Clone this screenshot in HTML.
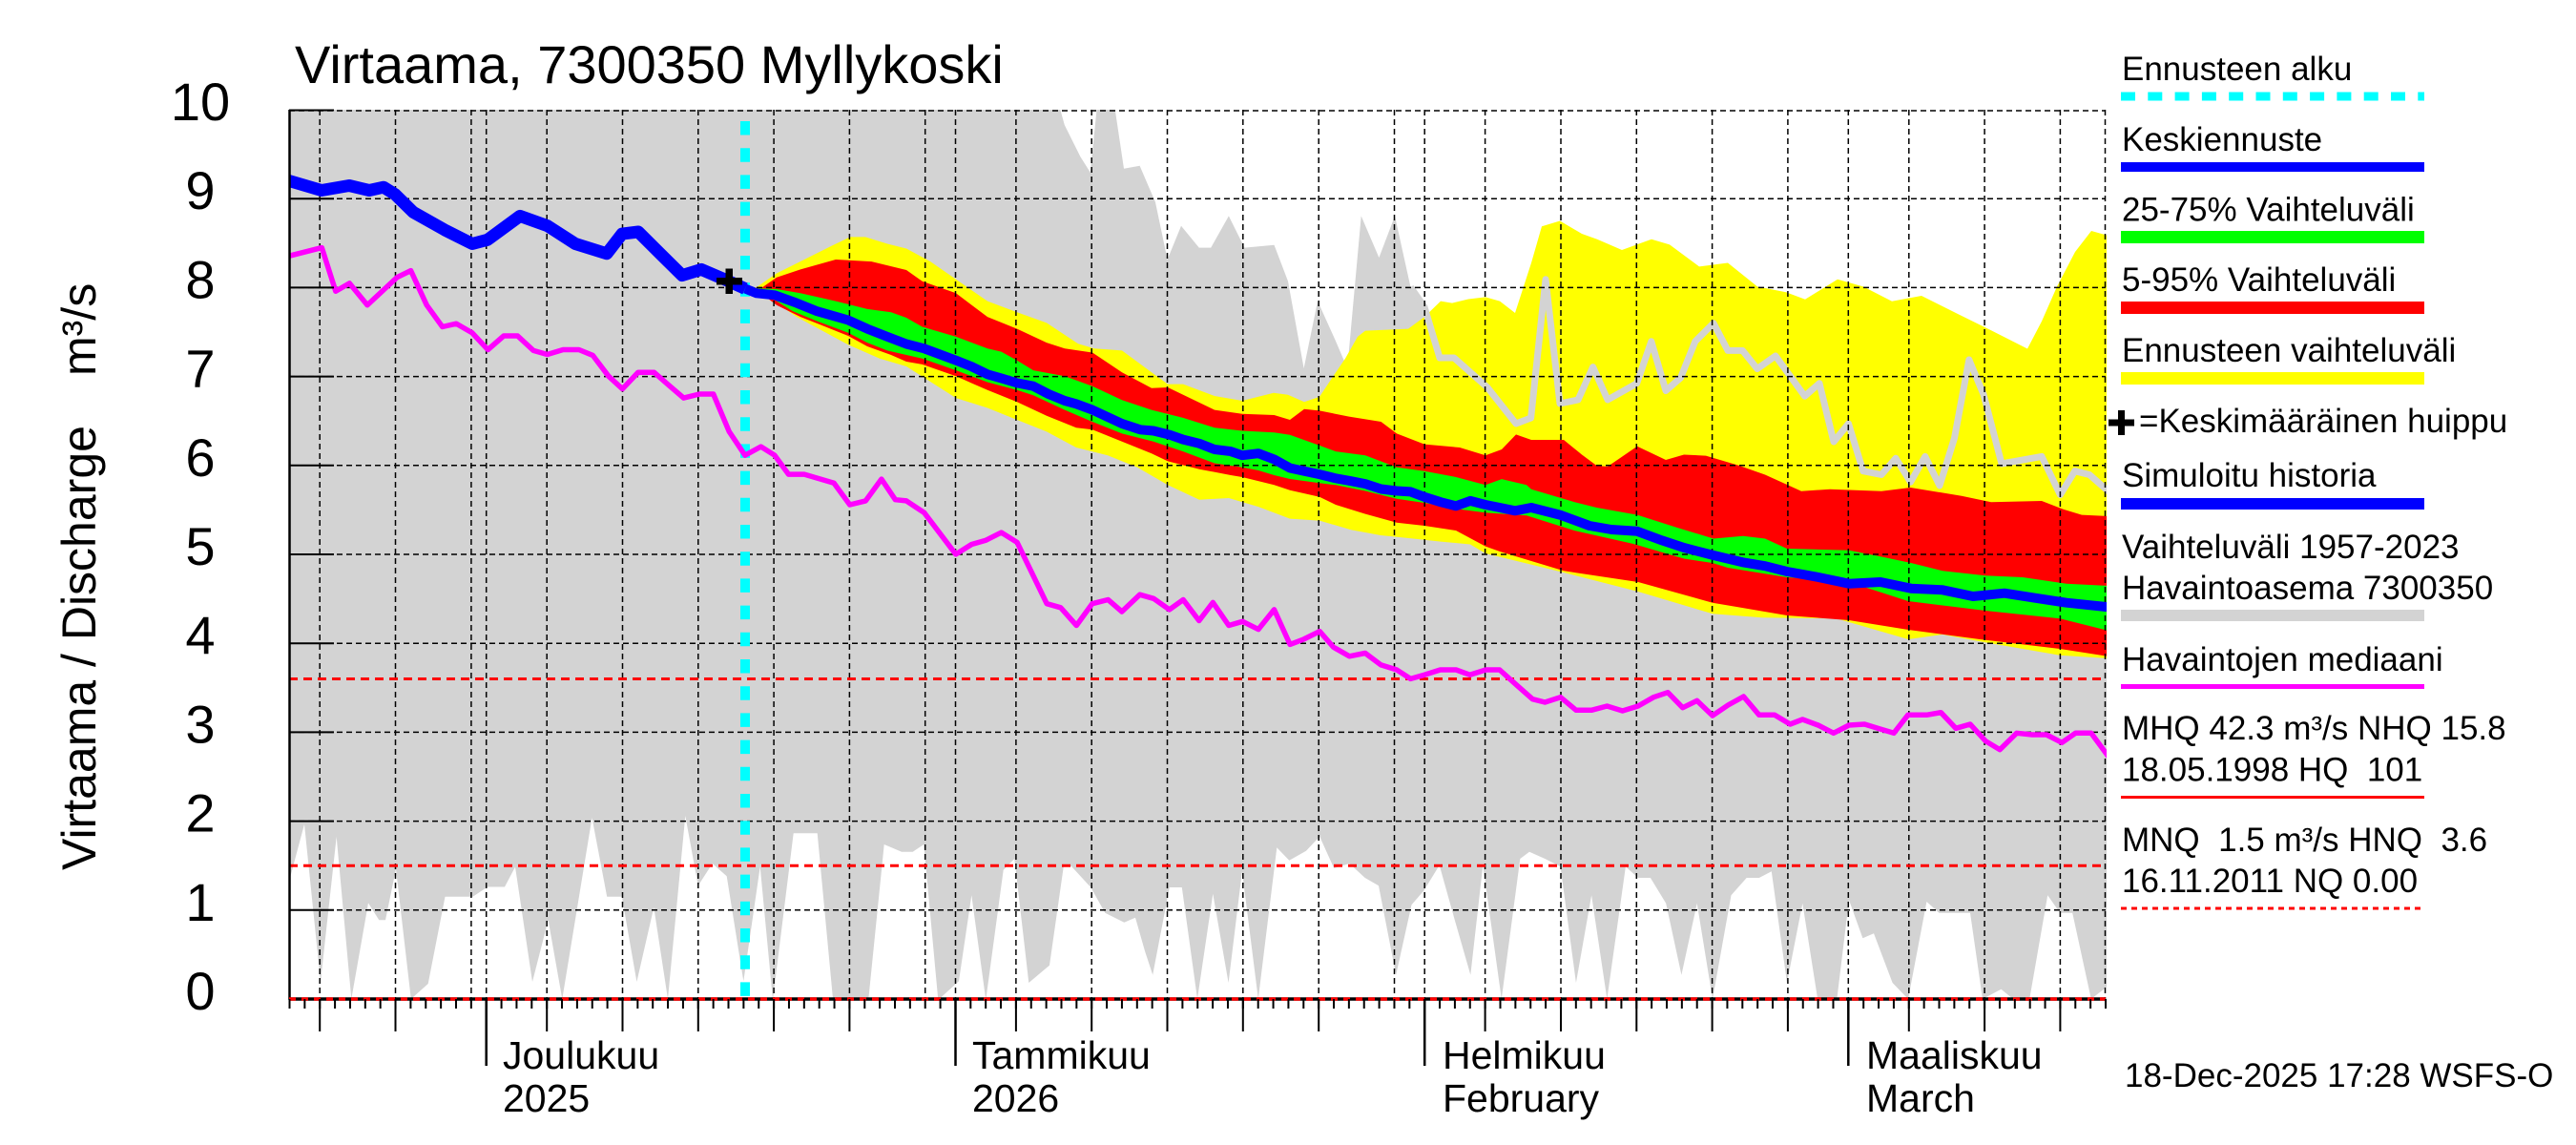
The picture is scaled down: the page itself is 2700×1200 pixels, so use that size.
<!DOCTYPE html>
<html><head><meta charset="utf-8"><style>
html,body{margin:0;padding:0;background:#fff;}
svg{display:block;}
text{font-family:"Liberation Sans",Arial,sans-serif;fill:#000;}
</style></head><body>
<svg width="2700" height="1200" viewBox="0 0 2700 1200" xmlns="http://www.w3.org/2000/svg">
<rect x="0" y="0" width="2700" height="1200" fill="#fff"/>
<defs><clipPath id="pc"><rect x="303" y="115" width="1905" height="932"/></clipPath></defs>

<g clip-path="url(#pc)">
<polygon fill="#d3d3d3" points="303,110 1110,110 1115.8,131 1132.4,164.3 1142.8,180.8 1150,110 1168,110 1178,176.7 1194.6,173.8 1211,212 1223.6,272 1238,236.8 1256.8,259.6 1269.2,259.6 1287.9,226.4 1304.4,259.6 1335.5,256.7 1350,294.8 1366.6,386 1381.1,315.6 1399.8,357 1412.2,386 1426.7,226.4 1445.4,270 1462,226.4 1478.5,301 1493,321.8 1509,375 1524,375 1558.7,405.7 1589,444 1604.6,438 1620,292.8 1635,423 1654,419 1669.6,384.6 1685,419 1715.6,401.8 1730.8,357.8 1746,409.5 1761.5,396 1776.8,357.8 1796,338.7 1811,367.4 1826.5,367.4 1841.8,386.5 1861,373 1891.6,415.2 1907,401.8 1922,463 1937.5,444 1952.8,493.7 1972,497.5 1987,480.3 2002.5,505.2 2017.8,478.4 2033,509 2048.5,459.2 2063.8,377 2079,413.3 2098,486 2140,478.4 2159.4,518.6 2174.7,493.7 2190,497.5 2210,515 2210,1033 2191.8,1047 2172.2,956.7 2159.2,956.7 2146.2,938.3 2126.7,1050 2113.7,1050 2097.5,1036.7 2078,1047 2065,956.7 2032.4,956.7 2019.4,945 2000,1047 1983.6,1030 1964,978.3 1952.4,983.3 1938,943.3 1925,1050 1905.6,1050 1889.3,946.7 1873,1030 1856.8,913.3 1843.8,920 1830.7,920 1814.5,938.3 1795,1047 1778.7,946.7 1762.4,1021.7 1746.2,946.7 1729.9,920 1716.9,920 1703.9,908.3 1684.4,1047 1668.1,938.3 1651.9,1030 1635.6,908.3 1619.3,900 1603,892.7 1593.3,900 1573.8,1047 1554.3,906.7 1541.3,1021.7 1525,965 1508.7,906.7 1492.5,933.3 1479.5,948.3 1463.2,1021.7 1445,928.3 1430.7,920 1414.4,905 1398.2,910 1383.2,876.7 1369,891.7 1351.3,901.7 1338.3,888.3 1318.8,1047 1301.9,913.3 1287.6,1030 1271.3,936.7 1255,1047 1238.8,930 1225.8,930 1208.2,1021.7 1200,996.7 1190,961.7 1178.3,966.7 1158.3,956.7 1143.3,930 1123.3,908.3 1115,906.7 1100,1011.7 1078.3,1030 1063.3,900 1051.7,911.7 1033.3,1048 1018.3,938.3 1005,1028.3 983.3,1048 968.3,885 956.7,892.7 945,892.7 926.7,885 910,1050 873.3,1050 856.7,873.3 831.7,873.3 810,1048 796.7,908.3 779.3,1028.3 761.7,918.3 746.7,905 731.7,928.3 718.3,855 700,1047 685.3,951 667.4,1029 651.8,939.7 636.2,939.7 620.5,857 589.3,1047 574.6,964.3 558,1029 540,908.5 529,929.5 511.2,929.5 495.5,939.7 466.5,939.7 448.7,1031 430.8,1047 415,910.7 404,964.3 397.3,964.3 386,946.4 368.3,1047 352.7,877 336,1029 319,863.8 300,935"/>

<polygon fill="#ffff00" points="781,302 793,301 814,286.5 851,268 872,257.5 891,248.4 907,248.4 930,255.5 950,260.5 975,274 1002,292.8 1035,315.6 1066,327.2 1097,338.4 1130,360.3 1147,365.3 1176,367.4 1207,390.2 1224,402.6 1240,402.6 1273,415 1302,420 1335,411.7 1350,413.8 1367,421.3 1383,415.9 1396,396.4 1410,375.7 1423,352.9 1431,346.6 1476,344.6 1493,332.1 1510,315.6 1522,317.6 1539,313.5 1557,311.4 1572,315.6 1588,328 1605,275.5 1616,237.3 1635,231.5 1658,245 1674,250.7 1700,262 1731,250.7 1750,256.4 1781,279.4 1811,275.5 1842,300.4 1872,306.2 1892,313.8 1926,292.8 1953,300.4 1983,315.7 2014,310 2052,329 2087,346.3 2125,365.5 2140,336.8 2156,300.4 2175,264 2192,242 2210,247 2210,690 2159,686.7 2081,673.3 2036,665 2000,670 1925,648.3 1847,647.3 1795,643.3 1717,620 1639,600 1557,580 1541,570.5 1510,567.6 1479,564.3 1447,561 1416,555.2 1383,545.6 1352,543.6 1319,531.1 1288,522 1257,523.7 1224,508.3 1192,489.7 1161,477.2 1128,469 1097,452.4 1066,440 1035,427.5 1002,417.1 950,384 922,375.7 889,361.2 835,332.1 814,317.6 787,302.3"/>

<polygon fill="#ff0000" points="781,302.5 797.5,302.3 814,290.7 839,282.4 876,272 913.5,274.1 950,283 966.6,294.8 1002,307.3 1035,332.1 1066,344.6 1097,359.1 1116,365.3 1145,369.5 1176,390.2 1207,406.8 1224,406 1273,429.6 1302,433.7 1335.5,435 1352,440 1367,428.7 1383,430.4 1414,436.6 1447.5,442 1464,454.4 1493,465.6 1530,469 1557,477.2 1574,471 1589,455.4 1605,461 1639,461 1658,476.5 1673.5,488 1685,489 1716,467.7 1746,482 1765,476.5 1788,477.6 1823,488 1850,497.5 1888,514.7 1918,512.8 1972,514.7 2002.5,511 2056,519.7 2087,526.2 2140,525 2163,533.9 2182,539.6 2210,541 2210,688 2159,680 2075,670 2000,660 1938,650 1873,645 1795,631.7 1717,610 1639,598.3 1572,578 1557,572.6 1526,556 1493,551 1464,547.7 1431,538.6 1400,529 1383,520.8 1352,513.7 1335.5,508.3 1302,500 1290,498 1257,491.7 1224,483.4 1207,475.2 1176,462.7 1145,450.3 1128,448.2 1097,435.8 1066,421.3 1035,408.8 1002,394.3 966.6,381.9 950,379 934,372 909,363 889,352 860,340.4 839,332.1 814,319.7 797.5,307.3"/>

<polygon fill="#00ff00" points="781,302.5 797.5,302.3 814,303 839,307.3 876,315.6 909,323.9 934,327.2 950,333 966.6,342.5 1002,352.9 1035,365.3 1049.5,368.6 1066,377.7 1083,388.1 1116,394.3 1145,404.7 1176,419.2 1207,429.6 1240,437.9 1273,448.2 1302,451.5 1335.5,453.2 1352,455.7 1383,466.9 1400,473.1 1431,477.2 1464,489.7 1493,493.8 1526,500 1557,508.3 1574,502.1 1600,508.3 1605,512.8 1650.5,526.2 1673.5,532 1716,539.6 1758,553 1796,564.5 1827,561.7 1850,564.5 1873,575 1938,576.7 1971,583.3 2003,590 2036,598.3 2081,603.3 2120,605 2166,611.7 2210,614 2210,661 2159,648.3 2081,640 2000,630 1938,610 1873,605 1811,595 1795,590 1765,585.5 1712,570 1650,556 1600,540.2 1557,537.3 1526,533.2 1493,527 1464,522.8 1431,514.5 1400,508.3 1383,506.3 1352,502 1335.5,498 1319,493 1302,489.7 1273,485.5 1240,473.1 1209,462.7 1176,454.4 1145,442 1116,429.6 1083,414.2 1066,408.8 1035,400.5 1002,388.1 966.6,375.7 950,372 930,367.4 909,359.1 889,348.7 855.5,336.3 830.6,326 814,315.6 797.5,303"/>

<polyline fill="none" stroke="#d3d3d3" stroke-width="7" stroke-linejoin="round" points="1478.5,301 1493,321.8 1509,375 1524,375 1558.7,405.7 1589,444 1604.6,438 1620,292.8 1635,423 1654,419 1669.6,384.6 1685,419 1715.6,401.8 1730.8,357.8 1746,409.5 1761.5,396 1776.8,357.8 1796,338.7 1811,367.4 1826.5,367.4 1841.8,386.5 1861,373 1891.6,415.2 1907,401.8 1922,463 1937.5,444 1952.8,493.7 1972,497.5 1987,480.3 2002.5,505.2 2017.8,478.4 2033,509 2048.5,459.2 2063.8,377 2079,413.3 2098,486 2140,478.4 2159.4,518.6 2174.7,493.7 2190,497.5 2210,515"/>

<g stroke="#000" stroke-width="1.5" stroke-dasharray="6 4" fill="none">
<line x1="303" y1="953.8" x2="2207" y2="953.8"/>
<line x1="303" y1="860.6" x2="2207" y2="860.6"/>
<line x1="303" y1="767.4" x2="2207" y2="767.4"/>
<line x1="303" y1="674.2" x2="2207" y2="674.2"/>
<line x1="303" y1="581" x2="2207" y2="581"/>
<line x1="303" y1="487.8" x2="2207" y2="487.8"/>
<line x1="303" y1="394.6" x2="2207" y2="394.6"/>
<line x1="303" y1="301.4" x2="2207" y2="301.4"/>
<line x1="303" y1="208.2" x2="2207" y2="208.2"/>
<line x1="303" y1="116" x2="2207" y2="116"/>
<line x1="2206.5" y1="115" x2="2206.5" y2="1047"/>
<line x1="335.2" y1="115" x2="335.2" y2="1047"/>
<line x1="414.5" y1="115" x2="414.5" y2="1047"/>
<line x1="493.9" y1="115" x2="493.9" y2="1047"/>
<line x1="509.7" y1="115" x2="509.7" y2="1047"/>
<line x1="573.2" y1="115" x2="573.2" y2="1047"/>
<line x1="652.5" y1="115" x2="652.5" y2="1047"/>
<line x1="731.8" y1="115" x2="731.8" y2="1047"/>
<line x1="811.1" y1="115" x2="811.1" y2="1047"/>
<line x1="890.4" y1="115" x2="890.4" y2="1047"/>
<line x1="969.7" y1="115" x2="969.7" y2="1047"/>
<line x1="1001.5" y1="115" x2="1001.5" y2="1047"/>
<line x1="1064.9" y1="115" x2="1064.9" y2="1047"/>
<line x1="1144.2" y1="115" x2="1144.2" y2="1047"/>
<line x1="1223.5" y1="115" x2="1223.5" y2="1047"/>
<line x1="1302.8" y1="115" x2="1302.8" y2="1047"/>
<line x1="1382.2" y1="115" x2="1382.2" y2="1047"/>
<line x1="1461.5" y1="115" x2="1461.5" y2="1047"/>
<line x1="1493.2" y1="115" x2="1493.2" y2="1047"/>
<line x1="1556.6" y1="115" x2="1556.6" y2="1047"/>
<line x1="1636" y1="115" x2="1636" y2="1047"/>
<line x1="1715.3" y1="115" x2="1715.3" y2="1047"/>
<line x1="1794.6" y1="115" x2="1794.6" y2="1047"/>
<line x1="1873.9" y1="115" x2="1873.9" y2="1047"/>
<line x1="1937.3" y1="115" x2="1937.3" y2="1047"/>
<line x1="2000.8" y1="115" x2="2000.8" y2="1047"/>
<line x1="2080.1" y1="115" x2="2080.1" y2="1047"/>
<line x1="2159.4" y1="115" x2="2159.4" y2="1047"/>
</g>

<g stroke="#ff0000" stroke-width="3" stroke-dasharray="9 6">
<line x1="303" y1="711.5" x2="2207" y2="711.5"/>
<line x1="303" y1="907.2" x2="2207" y2="907.2"/>
</g>

<line x1="781" y1="127" x2="781" y2="1047" stroke="#00ffff" stroke-width="10" stroke-dasharray="14.5 13.7"/>

<polyline fill="none" stroke="#ff00ff" stroke-width="5.5" stroke-linejoin="round" points="300,269 337.3,259.6 351.8,305.2 366.3,296.9 385,319.7 416.1,290.7 430.6,283.6 447.2,319.7 463.7,342.5 478.3,339.2 494.8,348.7 511.4,366.5 528,352 542.5,352 559.1,367.4 573.6,371.5 590.2,366.5 606.8,366.5 621.3,372.4 637.9,394.3 652.4,407.6 668.9,390.2 685.5,390.2 702.1,404.7 716.6,417.1 733.2,413 747.7,413 764.3,452.4 780.9,477.2 797.5,468.1 812,477.2 826.5,497.1 843,497.1 874.1,506.3 890.7,529 907.3,524.9 923.9,502.1 938.4,523.7 950,524.9 968.7,537.3 1001.8,580.9 1018.4,570.5 1032.9,566.4 1049.5,558.1 1066.1,568.4 1097.2,632.7 1111.7,636.8 1128.3,655.5 1144.8,632.7 1161.4,628.5 1175.9,641 1194.6,623.2 1209.1,627.3 1225.7,638.9 1240.2,628.5 1256.8,650.5 1271.3,631.4 1287.9,655.5 1302.4,651.3 1318.9,659.6 1335.5,638.9 1352.1,675.4 1366.6,669.9 1383.2,661.7 1397.7,678.3 1414.3,687.8 1430.9,684.5 1447.5,696.9 1464,702 1478.5,711.4 1493,707.3 1509.6,702 1526.2,702 1540.7,707.3 1557.3,702 1571.8,702 1590,718.3 1606.3,732.7 1619.3,736 1635.6,730.7 1651.9,744.3 1668.1,744.3 1684.4,740 1700.6,745 1716.9,740 1733.2,730.7 1748.1,725.7 1763.7,741.7 1778.7,734.3 1795,750 1811.2,739 1827.5,730 1843.8,749.3 1860,749.3 1876.3,759 1889.3,754 1905.6,760 1921.8,768.3 1938,760 1954.3,759 1970.6,764 1985,768.3 1999.8,749.3 2019.4,749.3 2034.3,746.7 2050,763.3 2065,759 2081.2,776.7 2096.1,785.7 2113.7,768.3 2130,770 2145,770 2161.2,778.3 2175.5,768.3 2191.8,768.3 2210,793"/>

<polyline fill="none" stroke="#0000ff" stroke-width="13" stroke-linejoin="round" points="298,188 337,199.5 366,194.5 387,199.5 402,196.2 414,203.6 433,222.3 466,240.9 495,255.5 511,251.3 545,226.4 574,236.8 603,255.5 636,265.8 652,245.1 669,243 694,267.9 715,288.6 735,282.4 764,294.8 781,302.5"/>
<polyline fill="none" stroke="#0000ff" stroke-width="10" stroke-linejoin="round" points="781,302.5 793,307.3 812,309.3 835,317.6 855.5,325.9 889,335.5 909,344.6 930,352.9 950,360.5 968.7,365.3 1002,377.7 1018,384 1035,392.3 1049.5,396.4 1066,401.4 1083,404.7 1099,413 1116,420 1128,423.3 1145,429.6 1176,444 1195,450.3 1209,451.5 1226,455.7 1240,460.6 1257,464.8 1273,471 1290,473.1 1302,477.2 1319,475.2 1335.5,481.4 1352,490.5 1367,493.8 1383,497.1 1400,501.3 1416,504.2 1431,507.1 1447.5,512.5 1464,514.5 1478.5,515.4 1493,520.8 1510,526.2 1526,530.3 1541,524.9 1557,529 1572,532 1588,535.3 1605,532 1635,539.6 1666,551 1689,555 1716,556.8 1742,566.4 1765,574 1796,582 1826.5,589.3 1850,593.2 1873,599 1906,605 1938,611.7 1971,610 2003,616.7 2036,618.3 2068,625 2101,621.7 2133,626.7 2166,631.7 2212,636.5"/>

<rect x="751" y="291" width="27" height="7.5" fill="#000"/>
<rect x="760.5" y="281.5" width="7.5" height="26.5" fill="#000"/>
</g>

<line x1="303.5" y1="115" x2="303.5" y2="1048" stroke="#000" stroke-width="2.5"/>
<line x1="303" y1="1047" x2="2207" y2="1047" stroke="#000" stroke-width="3.5"/>
<line x1="303" y1="1047" x2="2207" y2="1047" stroke="#ff0000" stroke-width="3.5" stroke-dasharray="7 6"/>
<g stroke="#000" stroke-width="2">
<line x1="303" y1="115.5" x2="350" y2="115.5"/>
<line x1="303" y1="208.2" x2="350" y2="208.2"/>
<line x1="303" y1="301.4" x2="350" y2="301.4"/>
<line x1="303" y1="394.6" x2="350" y2="394.6"/>
<line x1="303" y1="487.8" x2="350" y2="487.8"/>
<line x1="303" y1="581" x2="350" y2="581"/>
<line x1="303" y1="674.2" x2="350" y2="674.2"/>
<line x1="303" y1="767.4" x2="350" y2="767.4"/>
<line x1="303" y1="860.6" x2="350" y2="860.6"/>
<line x1="303" y1="953.8" x2="350" y2="953.8"/>
</g>
<line x1="302.5" y1="1052" x2="2209" y2="1052" stroke="#000" stroke-width="10" stroke-dasharray="2 13.8625"/>
<g stroke="#000" stroke-width="2">
<line x1="335.2" y1="1047" x2="335.2" y2="1081"/>
<line x1="414.5" y1="1047" x2="414.5" y2="1081"/>
<line x1="573.2" y1="1047" x2="573.2" y2="1081"/>
<line x1="652.5" y1="1047" x2="652.5" y2="1081"/>
<line x1="731.8" y1="1047" x2="731.8" y2="1081"/>
<line x1="811.1" y1="1047" x2="811.1" y2="1081"/>
<line x1="890.4" y1="1047" x2="890.4" y2="1081"/>
<line x1="1064.9" y1="1047" x2="1064.9" y2="1081"/>
<line x1="1144.2" y1="1047" x2="1144.2" y2="1081"/>
<line x1="1223.5" y1="1047" x2="1223.5" y2="1081"/>
<line x1="1302.8" y1="1047" x2="1302.8" y2="1081"/>
<line x1="1382.2" y1="1047" x2="1382.2" y2="1081"/>
<line x1="1556.6" y1="1047" x2="1556.6" y2="1081"/>
<line x1="1636" y1="1047" x2="1636" y2="1081"/>
<line x1="1715.3" y1="1047" x2="1715.3" y2="1081"/>
<line x1="1794.6" y1="1047" x2="1794.6" y2="1081"/>
<line x1="1873.9" y1="1047" x2="1873.9" y2="1081"/>
<line x1="2000.8" y1="1047" x2="2000.8" y2="1081"/>
<line x1="2080.1" y1="1047" x2="2080.1" y2="1081"/>
<line x1="2159.4" y1="1047" x2="2159.4" y2="1081"/>
</g>
<g stroke="#000" stroke-width="2.5">
<line x1="509.7" y1="1047" x2="509.7" y2="1117"/>
<line x1="1001.5" y1="1047" x2="1001.5" y2="1117"/>
<line x1="1493.2" y1="1047" x2="1493.2" y2="1117"/>
<line x1="1937.3" y1="1047" x2="1937.3" y2="1117"/>
</g>

<text x="309" y="87" font-size="56">Virtaama, 7300350 Myllykoski</text>

<g font-size="56" text-anchor="middle">
<text x="210" y="126">10</text>
<text x="210" y="219.2">9</text>
<text x="210" y="312.4">8</text>
<text x="210" y="405.6">7</text>
<text x="210" y="498.8">6</text>
<text x="210" y="592">5</text>
<text x="210" y="685.2">4</text>
<text x="210" y="778.4">3</text>
<text x="210" y="871.6">2</text>
<text x="210" y="964.8">1</text>
<text x="210" y="1058">0</text>
</g>

<text transform="translate(100,912) rotate(-90)" font-size="50">Virtaama / Discharge</text>
<text transform="translate(100,394) rotate(-90)" font-size="50">m³/s</text>

<g font-size="41">
<text x="527" y="1120">Joulukuu</text>
<text x="527" y="1165">2025</text>
<text x="1019" y="1120">Tammikuu</text>
<text x="1019" y="1165">2026</text>
<text x="1512" y="1120">Helmikuu</text>
<text x="1512" y="1165">February</text>
<text x="1956" y="1120">Maaliskuu</text>
<text x="1956" y="1165">March</text>
</g>
<text x="2227" y="1139" font-size="35">18-Dec-2025 17:28 WSFS-O</text>

<g font-size="35">
<text x="2224" y="84">Ennusteen alku</text>
<text x="2224" y="158">Keskiennuste</text>
<text x="2224" y="231.5">25-75% Vaihteluväli</text>
<text x="2224" y="305">5-95% Vaihteluväli</text>
<text x="2224" y="379">Ennusteen vaihteluväli</text>
<text x="2242" y="453">=Keskimääräinen huippu</text>
<text x="2224" y="510">Simuloitu historia</text>
<text x="2224" y="585">Vaihteluväli 1957-2023</text>
<text x="2224" y="628">Havaintoasema 7300350</text>
<text x="2224" y="703">Havaintojen mediaani</text>
<text x="2224" y="775">MHQ 42.3 m³/s NHQ 15.8</text>
<text x="2224" y="818.5">18.05.1998 HQ&#160; 101</text>
<text x="2224" y="892">MNQ&#160; 1.5 m³/s HNQ&#160; 3.6</text>
<text x="2224" y="935">16.11.2011 NQ 0.00</text>
</g>
<line x1="2223" y1="101" x2="2541" y2="101" stroke="#00ffff" stroke-width="9" stroke-dasharray="15 13.3"/>
<line x1="2223" y1="175" x2="2541" y2="175" stroke="#0000ff" stroke-width="10"/>
<line x1="2223" y1="248.5" x2="2541" y2="248.5" stroke="#00ff00" stroke-width="13"/>
<line x1="2223" y1="322.5" x2="2541" y2="322.5" stroke="#ff0000" stroke-width="13"/>
<line x1="2223" y1="396.5" x2="2541" y2="396.5" stroke="#ffff00" stroke-width="13"/>
<rect x="2210" y="439.5" width="27" height="7" fill="#000"/>
<rect x="2220" y="430" width="7" height="26" fill="#000"/>
<line x1="2223" y1="528" x2="2541" y2="528" stroke="#0000ff" stroke-width="12"/>
<line x1="2223" y1="645" x2="2541" y2="645" stroke="#d3d3d3" stroke-width="12"/>
<line x1="2223" y1="719.5" x2="2541" y2="719.5" stroke="#ff00ff" stroke-width="5"/>
<line x1="2223" y1="835.5" x2="2541" y2="835.5" stroke="#ff0000" stroke-width="3"/>
<line x1="2223" y1="952" x2="2541" y2="952" stroke="#ff0000" stroke-width="3" stroke-dasharray="6 5"/>
</svg>
</body></html>
